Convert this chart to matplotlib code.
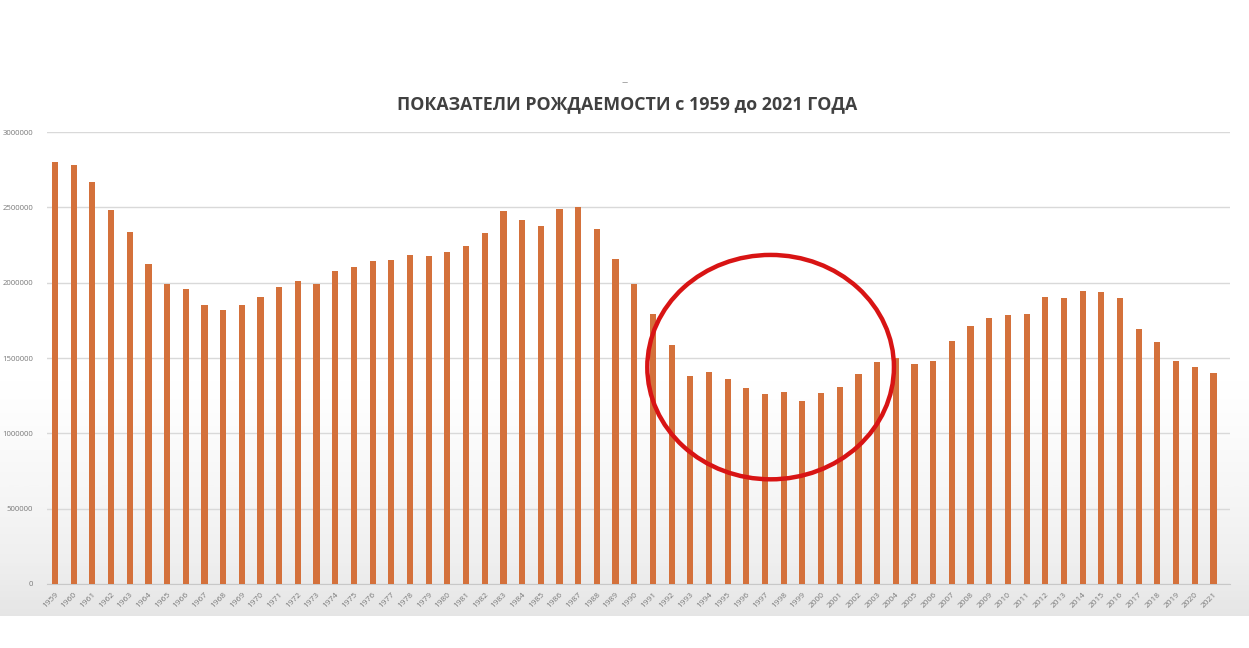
import matplotlib
matplotlib.use("Agg")
import matplotlib.pyplot as plt
from matplotlib.patches import Ellipse
import numpy as np

# births per year
years = list(range(1959, 2022))
births = [2800000, 2780000, 2667000, 2482000, 2336000, 2123000, 1990000, 1957000,
          1851000, 1818000, 1851000, 1904000, 1971000, 2010000, 1990000, 2077000,
          2103000, 2143000, 2150000, 2183000, 2177000, 2203000, 2243000, 2329000,
          2475000, 2415000, 2375000, 2488000, 2500000, 2356000, 2157000, 1990000,
          1792000, 1586000, 1380000, 1407000, 1360000, 1300000, 1261000, 1274000,
          1214000, 1267000, 1307000, 1393000, 1473000, 1500000, 1460000, 1480000,
          1612000, 1712000, 1765000, 1785000, 1792000, 1904000, 1898000, 1944000,
          1938000, 1898000, 1692000, 1606000, 1480000, 1440000, 1400000]
y_ticks = [0, 500000, 1000000, 1500000, 2000000, 2500000, 3000000]
title = "ПОКАЗАТЕЛИ РОЖДАЕМОСТИ с 1959 до 2021 ГОДА"

plt.rcParams['font.family'] = ['Open Sans', 'DejaVu Sans']

fig = plt.figure(figsize=(12.49, 6.48), dpi=100)
fig.patch.set_facecolor('white')

# screenshot backdrop: white fading into grey towards the bottom
bg = fig.add_axes([0, 0.05, 1, 0.95])
grad = np.linspace(0, 1, 256)
grad = np.clip((grad - 0.6) / 0.4, 0, 1) ** 1.3
bg.imshow(grad[:, None], aspect='auto', cmap='Greys', vmin=0, vmax=5.5,
          extent=[0, 1, 0, 1], origin='upper')
bg.set_axis_off()

ax = fig.add_axes([0.0376, 0.0988, 0.9474, 0.6972])
ax.set_facecolor('none')
x = np.arange(len(years))
ax.bar(x, births, width=0.33, color='#d4713b', zorder=3)

ax.set_ylim(0, 3000000)
ax.set_xlim(-0.43, 62.9)
ax.set_yticks(y_ticks)
ax.set_yticklabels([str(v) for v in y_ticks], fontsize=5.6, color='#7a7a7a')
ax.set_xticks(x)
ax.set_xticklabels([str(yr) for yr in years], fontsize=6, color='#7a7a7a',
                   rotation=45, ha='right', rotation_mode='anchor')
ax.tick_params(axis='x', length=0, pad=5)
ax.tick_params(axis='y', length=0, pad=10)
ax.yaxis.grid(True, color='#d9d9d9', linewidth=1, zorder=0)
for s in ['top', 'right', 'left']:
    ax.spines[s].set_visible(False)
ax.spines['bottom'].set_color('#c8c8c8')

# red circle drawn over the 90s dip
circle = Ellipse((38.3, 1440000), 13.2, 1490000, fill=False,
                 edgecolor='#d81414', linewidth=3.2, zorder=5)
ax.add_patch(circle)

fig.text(0.502, 0.84, title, ha='center', va='center', fontsize=12.8,
         fontweight='bold', color='#404040')
fig.text(0.5, 0.872, "‒", ha='center', va='center', fontsize=7, color='#999999')

fig.savefig('out.png', dpi=100)
